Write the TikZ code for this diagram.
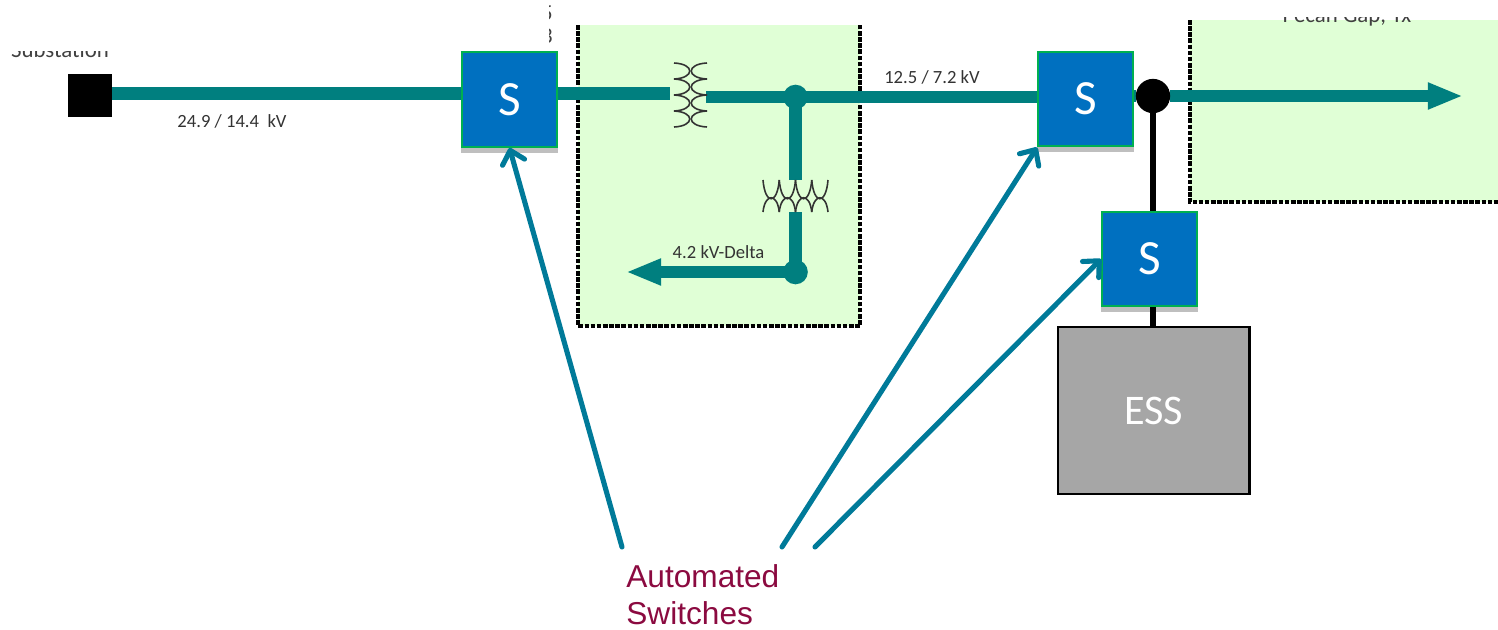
\documentclass[tikz,border=0pt]{standalone}
\usepackage{fontspec}
\setmainfont{Carlito}
\newfontfamily\arialfont{Liberation Sans}
\usetikzlibrary{arrows.meta,backgrounds,shadows}

\definecolor{wirecol}{HTML}{007F7F}
\definecolor{swblue}{HTML}{0070C0}
\definecolor{swgreen}{HTML}{00B050}
\definecolor{zonecol}{HTML}{E0FFD6}
\definecolor{ptrcol}{HTML}{007A99}
\definecolor{notecol}{HTML}{8B0A40}

\tikzset{
  switchbox/.style={draw=swgreen,line width=1.1pt,fill=swblue,text=white,minimum width=54pt,minimum height=54pt,inner sep=0pt,
    font=\fontsize{28}{30}\selectfont,drop shadow={shadow xshift=0pt,shadow yshift=-2.8pt,shadow scale=1.02,opacity=.25,fill=black}},
  wire/.style={draw=wirecol,line width=7pt},
  wirearrow/.style={wire,-{Triangle[length=20pt,width=14pt]}},
  blackwire/.style={draw=black,line width=3.6pt},
  pointer/.style={draw=ptrcol,line width=2.9pt,line cap=round,-{Straight Barb[length=7pt,width=13pt,round]}},
  zoneedge/.style={draw=black,line width=2.3pt,dash pattern=on 2.6pt off 0.9pt},
  coil/.style={draw=black!80,line width=0.9pt},
  lbl/.style={font=\fontsize{10.6}{12}\selectfont,text=black!80,inner sep=0pt},
  cut/.style={font=\fontsize{13}{15}\selectfont,text=black!75,inner sep=0pt}
}

\begin{document}
\begin{tikzpicture}[x=0.2mm,y=-0.2mm]
\useasboundingbox (0,0) rectangle (1498,630);

% nodes
\node[fill=black,minimum width=25pt,minimum height=24.4pt,inner sep=0pt] (sub) at (90,95.5) {};
\node[switchbox] (sw1) at (509.5,99.5) {S};
\node[switchbox] (sw2) at (1085.5,99) {S};
\node[switchbox] (sw3) at (1149.5,259) {S};
\node[draw=black,line width=1.4pt,fill=black!35,text=white,minimum width=109pt,minimum height=95pt,inner sep=0pt,
  font=\fontsize{24}{26}\selectfont] (ess) at (1153.5,410.5) {ESS};

\node[minimum width=20.4pt,minimum height=36pt,inner sep=0pt] (tx1) at (688,95) {};
\node[minimum width=36pt,minimum height=18.1pt,inner sep=0pt] (tx2) at (795.5,196) {};

\node[circle,fill=wirecol,minimum size=14pt,inner sep=0pt] (j1) at (795.5,97) {};
\node[circle,fill=wirecol,minimum size=14pt,inner sep=0pt] (j2) at (795.5,272) {};
\node[circle,fill=black,minimum size=19.5pt,inner sep=0pt] (j3) at (1153,96) {};

\coordinate (feed) at (112,93.5);
\coordinate (bus) at (706,97);
\coordinate (loadtip) at (626,272);
\coordinate (outtip) at (1463,96);

% zones and wires
\begin{scope}[on background layer]
\fill[zonecol] (578,25) rectangle (860,326);
\fill[zonecol] (1190,20) rectangle (1498,202);
\draw[zoneedge] (578,25) -- (578,326) -- (860,326) -- (860,25);
\draw[zoneedge] (1190,20) -- (1190,202) -- (1498,202);

\draw[wire] (feed) -- (feed -| sw1.west);
\draw[wire] (sw1.east |- feed) -- (feed -| tx1.west);
\draw[wire] (bus) -- (j1.center) -- (j1.center -| sw2.west);
\draw[wire] (j1.center) -- (tx2.north);
\draw[wire] (tx2.south) -- (j2.center);
\draw[wirearrow] (j2.center) -- (loadtip);
\draw[wirearrow] (j3) -- (outtip);
\draw[wire] (sw2.east |- j3) -- (j3);
\draw[blackwire] (j3) -- (j3 |- sw3.north);
\draw[blackwire] (j3 |- sw3.south) -- (j3 |- ess.north);
\end{scope}

% cropped texts
\begin{scope}
\clip (0,51) rectangle (130,70);
\node[cut,anchor=base] (subname) at (60,57) {Substation};
\end{scope}
\begin{scope}
\clip (1200,17) rectangle (1480,40);
\node[cut,anchor=base] (pecan) at (1347,23) {Pecan Gap, Tx};
\end{scope}
\begin{scope}
\clip (549,0) rectangle (575,50);
\node[cut,anchor=base east] (frag1) at (553,20) {5};
\node[cut,anchor=base east] (frag2) at (553,43) {3};
\end{scope}

% transformer windings
\foreach \y in {63,79,95,111}{
\draw[coil] (674,\y) .. controls (695,\y+1) and (695,\y+15) .. (674,\y+16);
\draw[coil] (707,\y) .. controls (686,\y+1) and (686,\y+15) .. (707,\y+16);
}
\foreach \x in {763,779.25,795.5,811.75}{
\draw[coil] (\x,180) .. controls (\x+2,205) and (\x+14.25,205) .. (\x+16.25,180);
\draw[coil] (\x,212) .. controls (\x+2,193) and (\x+14.25,193) .. (\x+16.25,212);
}

% labels
\node[lbl,anchor=base] (lbl1) at (232,127) {24.9 / 14.4\ \ kV};
\node[lbl,anchor=base] (lbl2) at (932,83) {12.5 / 7.2 kV};
\node[lbl,anchor=base] (lbl3) at (718.5,258) {4.2 kV-Delta};

\node[anchor=west,align=left,text=notecol,inner sep=0pt,font=\arialfont\fontsize{18}{21.2}\selectfont] (note) at (626,595) {Automated\\Switches};

\coordinate (from1) at (622,547);
\coordinate (from2) at (782,547);
\coordinate (from3) at (815,547);

\draw[pointer] (from1) -- (sw1.south);
\draw[pointer] (from2) -- (sw2.south west);
\draw[pointer] (from3) -- (sw3.west);

\end{tikzpicture}
\end{document}
